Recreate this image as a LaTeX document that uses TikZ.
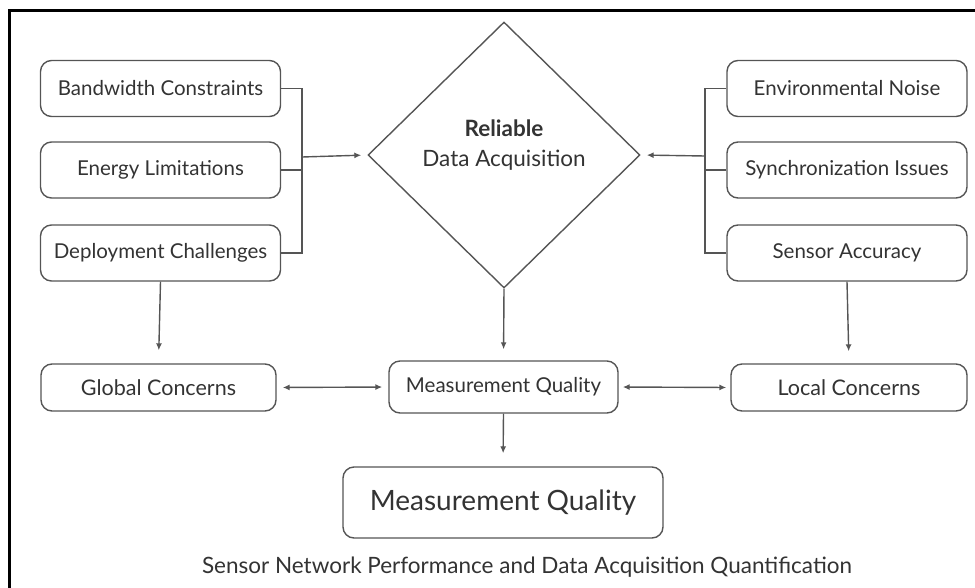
\documentclass[tikz,border=0pt]{standalone}
\usepackage{fontspec}
\setmainfont{Lato}
\usetikzlibrary{shapes.geometric,arrows.meta}
\definecolor{linegray}{HTML}{555555}
\definecolor{textgray}{HTML}{333333}
\begin{document}
\begin{tikzpicture}[x=1pt,y=-1pt,
  box/.style={draw=linegray, line width=1.4pt, rounded corners=11pt,
    minimum width=240pt, minimum height=56pt, inner sep=0pt,
    text=textgray, font=\fontsize{20.5}{24}\selectfont},
  flatbox/.style={box, minimum height=47pt, font=\fontsize{21.5}{24}\selectfont},
  conn/.style={draw=linegray, line width=1.4pt},
  arr/.style={conn, -{Latex[length=7pt,width=6pt]}},
  darr/.style={conn, {Latex[length=7pt,width=6pt]}-{Latex[length=7pt,width=6pt]}}
]
\useasboundingbox (0,0) rectangle (975,587);
% frame
\draw[line width=3pt, black] (9,590) -- (9,10) -- (978,10);

% left factors
\node[box] (bw) at (160.5,88.5) {Bandwidth Constraints};
\node[box] (en) at (160.5,170) {Energy Limitations};
\node[box] (dp) at (160.5,253) {Deployment Challenges};

% right factors
\node[box] (nz) at (847,88.5) {Environmental Noise};
\node[box] (sy) at (847,170) {Synchronization Issues};
\node[box] (sa) at (847,253) {Sensor Accuracy};

% central decision
\node[diamond, draw=linegray, line width=1.4pt, aspect=1, inner sep=0pt,
      minimum width=272pt, minimum height=266pt] (dia) at (504,155) {};
\node[align=center, text=textgray, font=\fontsize{22.5}{30}\selectfont] (dlab) at (504,145)
  {\textbf{Reliable}\\Data Acquisition};

% concerns row
\node[flatbox, minimum width=235pt] (gc) at (158.5,387.5) {Global Concerns};
\node[box, minimum width=229pt, minimum height=52pt] (mq) at (503.5,387) {Measurement Quality};
\node[flatbox, minimum width=236pt] (lc) at (849,387.5) {Local Concerns};

% result
\node[box, minimum width=320pt, minimum height=71pt, font=\fontsize{28}{32}\selectfont] (res) at (503,502.5) {Measurement Quality};

% caption
\node[text=textgray, font=\fontsize{22.5}{26}\selectfont] (cap) at (527,567)
  {Sensor Network Performance and Data Acquisition Quantification};

% left bracket
\coordinate (lbr) at (302,157);
\draw[conn] (bw.east) -| (lbr);
\draw[conn] (dp.east) -| (lbr);
\draw[conn] (en.east) -- (en.east -| lbr);
\draw[arr, shorten >=6pt] (lbr) -- (dia.west);

% right bracket
\coordinate (rbr) at (705,156);
\draw[conn] (nz.west) -| (rbr);
\draw[conn] (sa.west) -| (rbr);
\draw[conn] (sy.west) -- (sy.west -| rbr);
\draw[arr, shorten >=6pt] (rbr) -- (dia.east);

% downward flow
\draw[arr, shorten >=13pt] (dp.south) -- (gc.north);
\draw[arr, shorten >=12pt] (sa.south) -- (lc.north);
\draw[arr, shorten >=11pt] (dia.south) -- (mq.north);
\draw[arr, shorten >=13pt] (mq.south) -- (res.north);

% lateral links
\draw[darr, shorten <=6pt, shorten >=6pt] (gc.east) -- (mq.west);
\draw[darr, shorten <=4pt, shorten >=4pt] (mq.east) -- (lc.west);
\end{tikzpicture}
\end{document}
